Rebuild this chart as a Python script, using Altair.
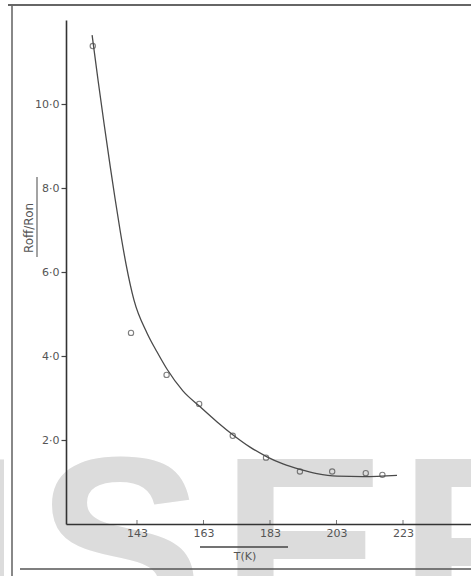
import altair as alt
import pandas as pd

# Measured R_off/R_on ratio against temperature (K)
temp_K = [129.7, 141.2, 151.9, 161.7, 171.8, 181.8, 192.0, 201.7, 211.8, 216.8]
ratio = [11.38, 4.55, 3.55, 2.86, 2.10, 1.58, 1.25, 1.25, 1.21, 1.17]

# Smooth curve drawn through the measurements
curve_T = [129.5, 131.3, 133.1, 134.9, 136.4, 137.9, 139.7, 142.1, 146.0, 149.0,
           152.0, 156.8, 162.0, 167.1, 171.9, 177.0, 182.1, 186.9, 192.0, 197.1,
           203.2, 211.0, 221.2]
curve_R = [11.64, 10.56, 9.53, 8.54, 7.75, 7.00, 6.19, 5.33, 4.55, 4.10,
           3.69, 3.17, 2.79, 2.43, 2.12, 1.83, 1.60, 1.43, 1.30, 1.20,
           1.14, 1.13, 1.16]

x_ticks = [143, 163, 183, 203, 223]
y_ticks = [2, 4, 6, 8, 10]

points = pd.DataFrame({"T": temp_K, "R": ratio})
curve = pd.DataFrame({"T": curve_T, "R": curve_R})
ticks = pd.DataFrame({"T": x_ticks})
one = pd.DataFrame({"k": [0]})

INK = "#4a4a4a"
FONT = "DejaVu Sans"

x_scale = alt.Scale(domain=[121.65, 243.45], nice=False, zero=False)
y_scale = alt.Scale(domain=[0, 12], nice=False, zero=True)

x_enc = alt.X(
    "T:Q",
    scale=x_scale,
    axis=alt.Axis(
        values=x_ticks, ticks=False, grid=False, title=None,
        labelFont=FONT, labelFontSize=11, labelColor="#555",
        labelPadding=3, domainColor="#333", domainWidth=1.6,
        labelFlush=False, zindex=1,
    ),
)
y_enc = alt.Y(
    "R:Q",
    scale=y_scale,
    axis=alt.Axis(
        values=y_ticks, grid=False, title=None,
        labelExpr="replace(format(datum.value, '.1f'), '.', '·')",
        tickSize=5, tickColor="#444", tickWidth=1.2,
        labelFont=FONT, labelFontSize=11, labelColor="#555",
        labelPadding=2, domainColor="#333", domainWidth=1.6, zindex=1,
    ),
)

# Large grey stamp lettering across the lower part of the sheet
stamp = [
    alt.Chart(one).mark_text(
        text=ch, font="Liberation Sans", fontWeight="bold", fontSize=250,
        color="#dcdcdc", align="center", baseline="alphabetic",
    ).encode(x=alt.value(px), y=alt.value(612))
    for ch, px in [("I", -80), ("S", 54), ("E", 238), ("R", 423)]
]

line = alt.Chart(curve).mark_line(
    color=INK, strokeWidth=1.3, interpolate="monotone"
).encode(x=x_enc, y=y_enc)

dots = alt.Chart(points).mark_point(
    shape="circle", size=28, filled=False, color=INK, strokeWidth=1.1
).encode(x=x_enc, y=y_enc)

xticks = alt.Chart(ticks).mark_rule(color="#777", strokeWidth=1).encode(
    x=alt.X("T:Q", scale=x_scale), y=alt.value(500), y2=alt.value(504)
)

# Axis captions with their rules
y_title = alt.Chart(one).mark_text(
    text="Roff/Ron", angle=270, font=FONT, fontSize=12, color="#555",
    align="center", baseline="middle",
).encode(x=alt.value(-37), y=alt.value(208))
y_bar = alt.Chart(one).mark_rule(color="#666", strokeWidth=1.2).encode(
    x=alt.value(-29), y=alt.value(157), y2=alt.value(237)
)
x_title = alt.Chart(one).mark_text(
    text="T(K)", font=FONT, fontSize=11, color="#555",
    align="center", baseline="middle",
).encode(x=alt.value(179), y=alt.value(537))
x_bar = alt.Chart(one).mark_rule(color="#444", strokeWidth=1.4).encode(
    x=alt.value(134), x2=alt.value(222), y=alt.value(527)
)

# Sheet border
frame_left = alt.Chart(one).mark_rule(color="#888", strokeWidth=2).encode(
    x=alt.value(-54), y=alt.value(-15), y2=alt.value(556)
)
frame_top = alt.Chart(one).mark_rule(color="#666", strokeWidth=2).encode(
    x=alt.value(-58), x2=alt.value(405), y=alt.value(-15)
)
frame_bottom = alt.Chart(one).mark_rule(color="#555", strokeWidth=1.6).encode(
    x=alt.value(-46), x2=alt.value(405), y=alt.value(549)
)

chart = alt.layer(
    *stamp, frame_left, frame_top, frame_bottom,
    line, dots, xticks, y_title, y_bar, x_title, x_bar,
).properties(
    width=405, height=504,
    padding={"left": 66, "top": 20, "right": 0, "bottom": 52},
    autosize="none", background="white",
).configure_view(stroke=None)

chart.save("out.html", embed_options={"renderer": "svg", "actions": False})
